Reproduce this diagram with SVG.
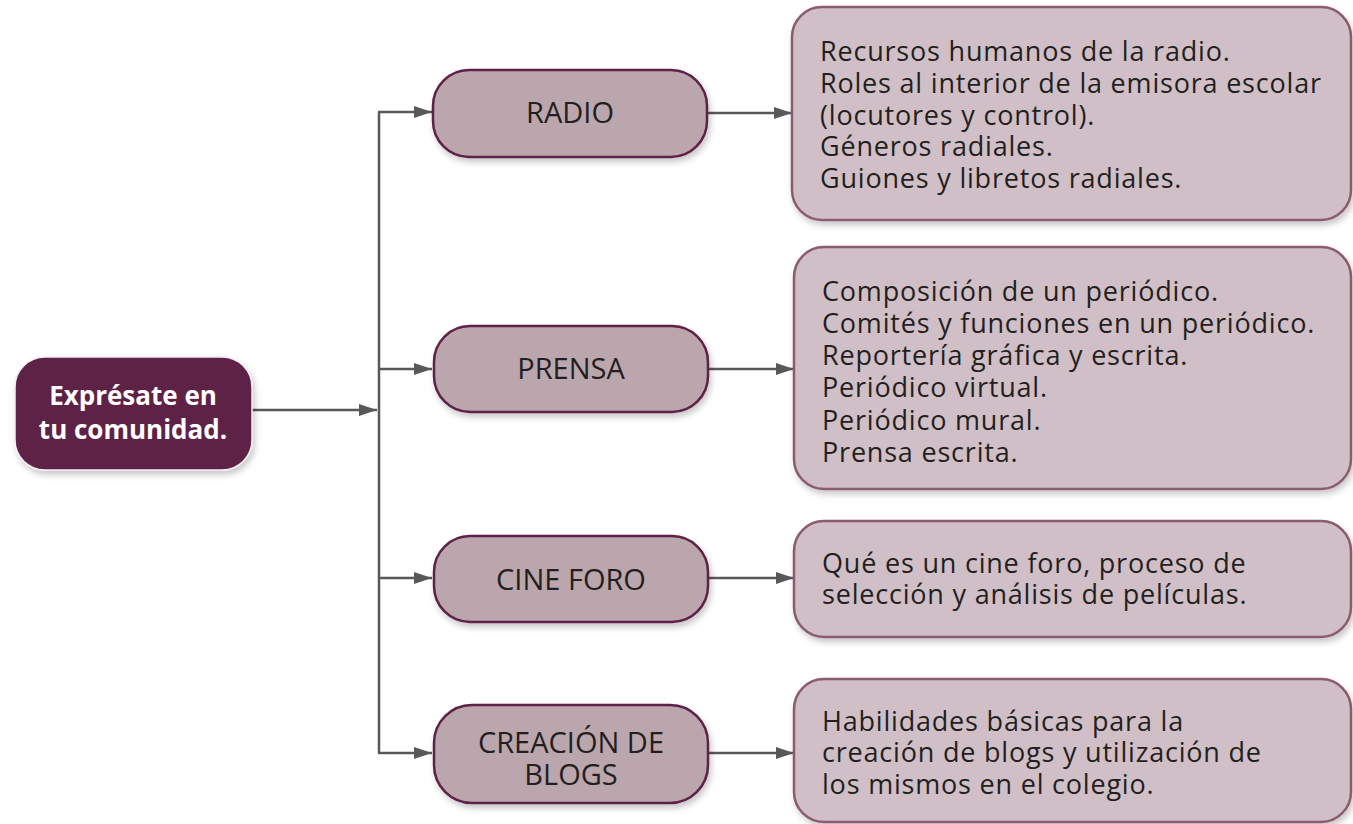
<svg xmlns="http://www.w3.org/2000/svg" width="1353" height="824" viewBox="0 0 1353 824">
<defs>
<filter id="sh" x="-10%" y="-10%" width="130%" height="140%">
<feDropShadow dx="2" dy="4" stdDeviation="3" flood-color="#000" flood-opacity="0.22"/>
</filter>
<marker id="ah" markerUnits="userSpaceOnUse" markerWidth="18" markerHeight="12" refX="18" refY="6" orient="auto">
<path d="M0,0 L18,6 L0,12 z" fill="#58585a"/>
</marker>
</defs>
<style>
.main{fill:#5e2146;stroke:#f3eef0;stroke-width:1.5}
.mid{fill:#bba6ad;stroke:#5e2146;stroke-width:2.5}
.desc{fill:#d0bfc6;stroke:#8b5b6f;stroke-width:2.5}
.conn{fill:none;stroke:#58585a;stroke-width:2.5}
.mt{font-family:"Open Sans","Noto Sans",sans-serif;font-weight:bold;font-size:26px;fill:#ffffff;text-anchor:middle}
.lt{font-family:"Open Sans","Noto Sans",sans-serif;font-size:29px;fill:#231f20;text-anchor:middle}
.dt{font-family:"Open Sans","Noto Sans",sans-serif;font-size:27px;letter-spacing:0.8px;fill:#231f20}
</style>
<g id="connectors">
<line class="conn" x1="252" y1="410" x2="377" y2="410" marker-end="url(#ah)"/>
<line class="conn" x1="379" y1="112" x2="379" y2="753"/>
<line class="conn" x1="378" y1="112" x2="432" y2="112" marker-end="url(#ah)"/>
<line class="conn" x1="378" y1="369" x2="432" y2="369" marker-end="url(#ah)"/>
<line class="conn" x1="378" y1="578" x2="432" y2="578" marker-end="url(#ah)"/>
<line class="conn" x1="378" y1="753" x2="432" y2="753" marker-end="url(#ah)"/>
<line class="conn" x1="707" y1="113" x2="792" y2="113" marker-end="url(#ah)"/>
<line class="conn" x1="707" y1="369" x2="794" y2="369" marker-end="url(#ah)"/>
<line class="conn" x1="708" y1="578" x2="794" y2="578" marker-end="url(#ah)"/>
<line class="conn" x1="708" y1="753" x2="794" y2="753" marker-end="url(#ah)"/>
</g>
<g id="main">
<rect class="main" x="15" y="357" width="237" height="113" rx="30" filter="url(#sh)"/>
<text class="mt" x="133" y="405">Exprésate en</text>
<text class="mt" x="133" y="439">tu comunidad.</text>
</g>
<g id="radio">
<rect class="mid" x="433" y="70" width="274" height="87" rx="36" filter="url(#sh)"/>
<text class="lt" x="570" y="123">RADIO</text>
</g>
<g id="prensa">
<rect class="mid" x="434" y="326" width="274" height="86" rx="36" filter="url(#sh)"/>
<text class="lt" x="571" y="379">PRENSA</text>
</g>
<g id="cine">
<rect class="mid" x="434" y="536" width="274" height="86" rx="36" filter="url(#sh)"/>
<text class="lt" x="571" y="590">CINE FORO</text>
</g>
<g id="blogs">
<rect class="mid" x="434" y="705" width="274" height="98" rx="38" filter="url(#sh)"/>
<text class="lt" x="571" y="753">CREACIÓN DE</text>
<text class="lt" x="571" y="785">BLOGS</text>
</g>
<g id="radio-desc">
<rect class="desc" x="792" y="7" width="559" height="213" rx="30" filter="url(#sh)"/>
<text class="dt" x="820" y="61">Recursos humanos de la radio.</text>
<text class="dt" x="820" y="93">Roles al interior de la emisora escolar</text>
<text class="dt" x="820" y="125">(locutores y control).</text>
<text class="dt" x="820" y="156">Géneros radiales.</text>
<text class="dt" x="820" y="188">Guiones y libretos radiales.</text>
</g>
<g id="prensa-desc">
<rect class="desc" x="794" y="247" width="557" height="242" rx="30" filter="url(#sh)"/>
<text class="dt" x="822" y="301">Composición de un periódico.</text>
<text class="dt" x="822" y="333">Comités y funciones en un periódico.</text>
<text class="dt" x="822" y="365">Reportería gráfica y escrita.</text>
<text class="dt" x="822" y="397">Periódico virtual.</text>
<text class="dt" x="822" y="430">Periódico mural.</text>
<text class="dt" x="822" y="462">Prensa escrita.</text>
</g>
<g id="cine-desc">
<rect class="desc" x="794" y="521" width="557" height="116" rx="30" filter="url(#sh)"/>
<text class="dt" x="822" y="573">Qué es un cine foro, proceso de</text>
<text class="dt" x="822" y="604">selección y análisis de películas.</text>
</g>
<g id="blogs-desc">
<rect class="desc" x="794" y="679" width="557" height="143" rx="30" filter="url(#sh)"/>
<text class="dt" x="822" y="731">Habilidades básicas para la</text>
<text class="dt" x="822" y="762">creación de blogs y utilización de</text>
<text class="dt" x="822" y="794">los mismos en el colegio.</text>
</g>
</svg>
